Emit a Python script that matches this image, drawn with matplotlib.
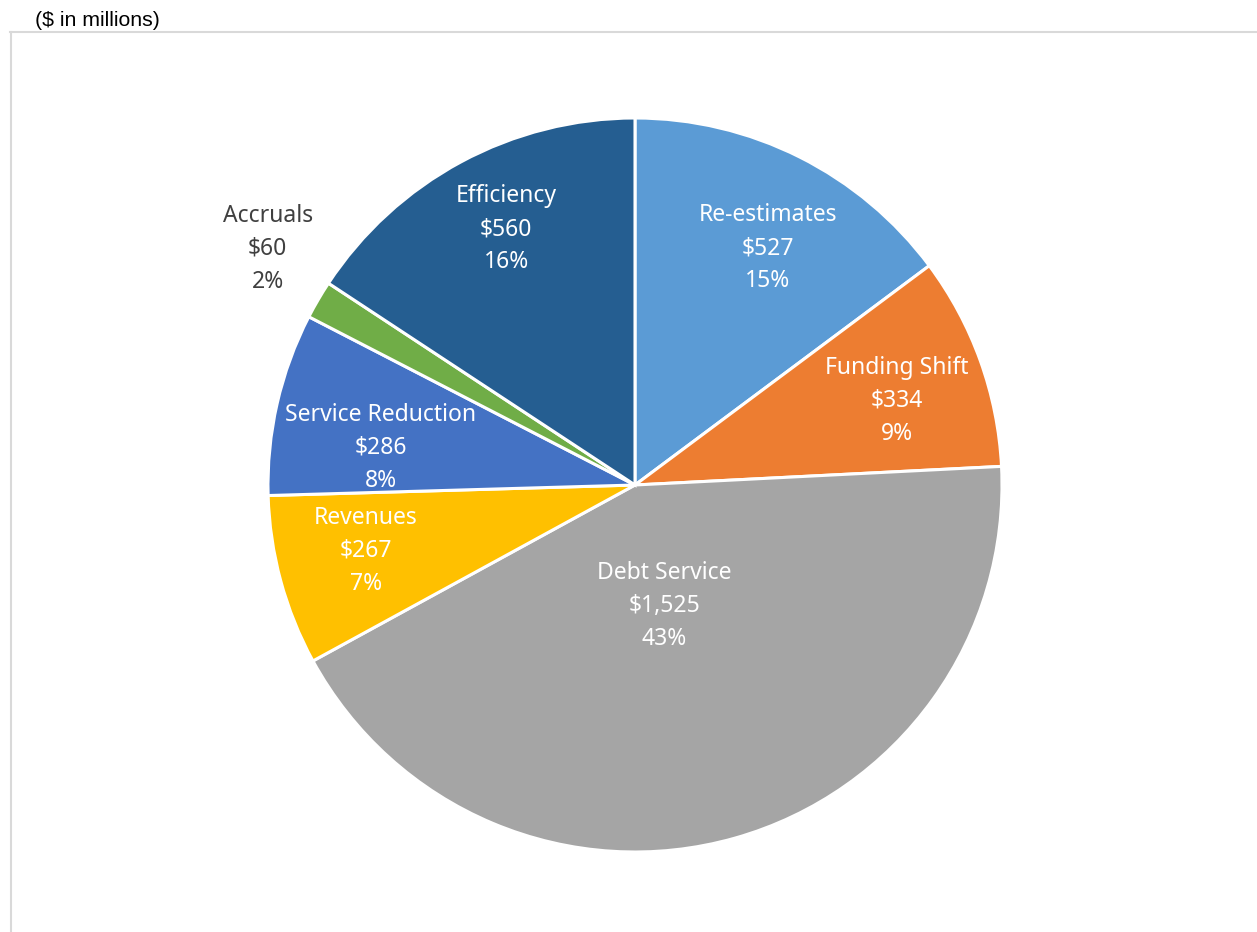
import numpy as np
import matplotlib
matplotlib.use("Agg")
import matplotlib.pyplot as plt
from matplotlib.lines import Line2D

# data, clockwise from 12 o'clock
categories = ["Re-estimates", "Funding Shift", "Debt Service", "Revenues",
              "Service Reduction", "Accruals", "Efficiency"]
values = [527, 334, 1525, 267, 286, 60, 560]
percents = [15, 9, 43, 7, 8, 2, 16]  # as printed on the chart
colors = ["#5B9BD5", "#ED7D31", "#A5A5A5", "#FFC000", "#4472C4", "#70AD47", "#255E91"]
# how far out each label sits (fraction of radius), like excel's best fit
label_dist = [0.74, 0.75, 0.34, 0.755, 0.70, 1.19, 0.78]
label_shift = [2.6, 2.0, 2.3, 1.4, -4.5, 2.4, 1.6]  # degrees
label_color = ["white"] * 5 + ["#404040", "white"]

W, H = 1257, 932
fig = plt.figure(figsize=(W / 100, H / 100), dpi=100, facecolor="white")

# pie centre (635, 485) px, radius 367 px
cx, cy, r = 635, 485, 367
ax = fig.add_axes([(cx - r) / W, (H - cy - r) / H, 2 * r / W, 2 * r / H])

wedges, _ = ax.pie(values, colors=colors, startangle=90, counterclock=False,
                   radius=1, wedgeprops=dict(edgecolor="white", linewidth=2.2))
ax.set_aspect("auto")
ax.set_xlim(-1, 1)
ax.set_ylim(-1, 1)
ax.axis("off")

for w, cat, v, p, d, sh, c in zip(wedges, categories, values, percents,
                                  label_dist, label_shift, label_color):
    mid = np.deg2rad((w.theta1 + w.theta2) / 2 - sh)
    x, y = d * np.cos(mid), d * np.sin(mid)
    ax.text(x, y, f"{cat}\n${v:,}\n{p}%", ha="center", va="center",
            color=c, fontsize=16.5, family=["Noto Sans", "DejaVu Sans"],
            linespacing=1.5)

# frame lines of the chart area
fig.add_artist(Line2D([10 / W, 1], [1 - 32 / H, 1 - 32 / H], color="#D9D9D9", lw=1.5))
fig.add_artist(Line2D([10.5 / W, 10.5 / W], [0, 1 - 32 / H], color="#D9D9D9", lw=1.5))

fig.text(35 / W, 1 - 20 / H, "($ in millions)", ha="left", va="center",
         fontsize=15.3, family=["Liberation Sans", "DejaVu Sans"], color="black")

fig.savefig("out.png", dpi=100, facecolor="white")
